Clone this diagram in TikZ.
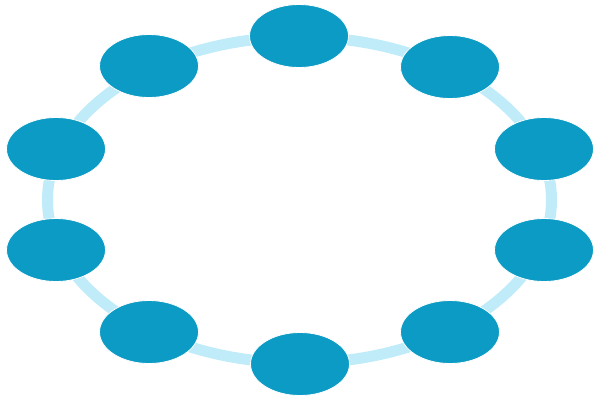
\documentclass[tikz,border=0pt]{standalone}
\usetikzlibrary{shapes.geometric}
\definecolor{ringblue}{RGB}{192,236,250}
\definecolor{nodeblue}{RGB}{12,155,196}
\tikzset{
  blob/.style={ellipse, fill=nodeblue, draw=white, line width=0.8pt, minimum width=99pt, minimum height=63pt, inner sep=0pt},
  ring/.style={draw=ringblue, line width=11pt}
}
\begin{document}
\begin{tikzpicture}[x=1pt,y=-1pt]
\useasboundingbox (0,0) rectangle (600,400);
\coordinate (c) at (299.5,200);
\draw[ring] (c) ellipse [x radius=252, y radius=163];
\node[blob] (n1) at (299,36) {};
\node[blob] (n2) at (450,67) {};
\node[blob] (n3) at (544,149) {};
\node[blob] (n4) at (544,250) {};
\node[blob] (n5) at (450,332) {};
\node[blob] (n6) at (300,364) {};
\node[blob] (n7) at (149,332) {};
\node[blob] (n8) at (56,250) {};
\node[blob] (n9) at (56,149) {};
\node[blob] (n10) at (149,66) {};
\end{tikzpicture}
\end{document}
